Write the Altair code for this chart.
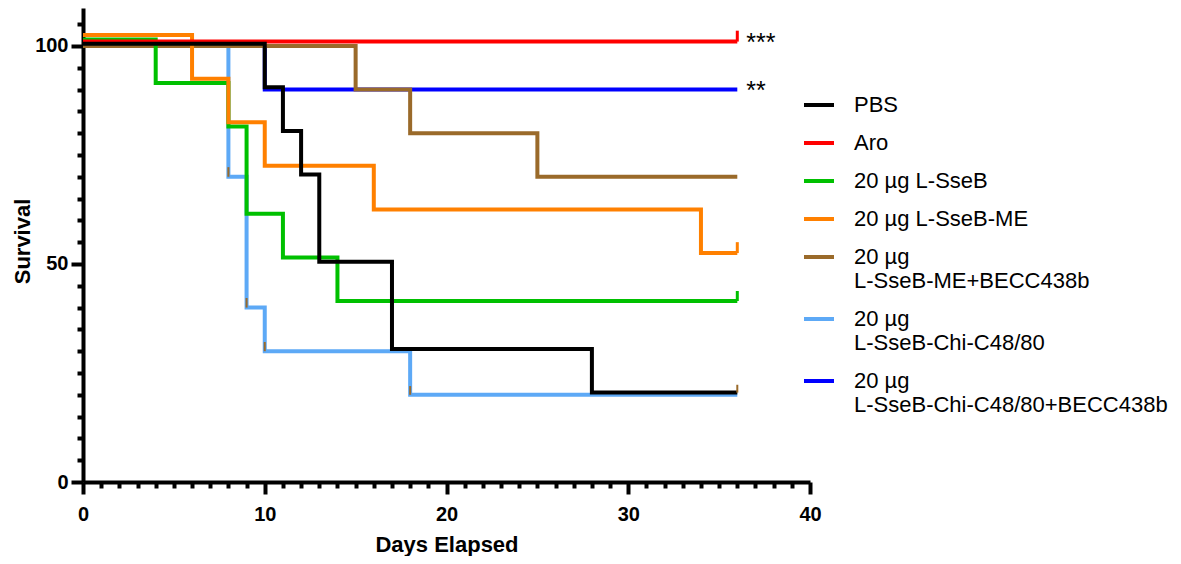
import altair as alt
import pandas as pd

groups = ["PBS", "Aro", "20 µg L-SseB", "20 µg L-SseB-ME",
          "20 µg L-SseB-ME+BECC438b", "20 µg L-SseB-Chi-C48/80",
          "20 µg L-SseB-Chi-C48/80+BECC438b"]
colors = ["#000000", "#FF0000", "#00C000", "#FF8000", "#9A6A2A", "#5DA9F6", "#0000FF"]

pbs_days = [0, 10, 11, 12, 13, 17, 28, 36]
pbs_surv = [100.5, 90.5, 80.5, 70.5, 50.5, 30.5, 20.5, 20.5]
aro_days = [0, 36]
aro_surv = [101, 101]
sseb_days = [0, 4, 8, 9, 11, 14, 36]
sseb_surv = [101.5, 91.5, 81.5, 61.5, 51.5, 41.5, 41.5]
me_days = [0, 6, 8, 10, 16, 34, 36]
me_surv = [102.5, 92.5, 82.5, 72.5, 62.5, 52.5, 52.5]
mebecc_days = [0, 15, 18, 25, 36]
mebecc_surv = [100, 90, 80, 70, 70]
chi_days = [0, 8, 9, 10, 18, 36]
chi_surv = [100, 70, 40, 30, 20, 20]
chibecc_days = [0, 10, 36]
chibecc_surv = [100, 90, 90]

# censored-subject ticks at the end of the curves
cens_group = ["Aro", "20 µg L-SseB-ME", "20 µg L-SseB"]
cens_day = [36, 36, 36]
cens_low = [101, 52.5, 41.5]
cens_high = [103.5, 55, 43.8]

# small brown marks visible on the light-blue steps
brown_day = [8, 9, 10, 18, 36]
brown_low = [70, 40, 30, 20, 20.5]
brown_high = [72.2, 42.2, 32.1, 22, 22.3]

# significance marks
star_text = ["***", "**"]
star_day = [36, 36]
star_surv = [101, 90]

x_ticks_major = [0, 10, 20, 30, 40]
x_ticks_minor = [d for d in range(0, 41) if d % 10 != 0]
y_ticks_major = [0, 50, 100]
y_ticks_minor = [v for v in range(5, 110, 5) if v % 50 != 0]

series = [
    (groups[5], chi_days, chi_surv),
    (groups[6], chibecc_days, chibecc_surv),
    (groups[4], mebecc_days, mebecc_surv),
    (groups[2], sseb_days, sseb_surv),
    (groups[3], me_days, me_surv),
    (groups[1], aro_days, aro_surv),
    (groups[0], pbs_days, pbs_surv),
]
rows = []
order = 0
for g, ds, ss in series:
    for d, s in zip(ds, ss):
        rows.append({"group": g, "day": d, "surv": s, "o": order})
        order += 1
df = pd.DataFrame(rows)

cens_df = pd.DataFrame({"group": cens_group, "day": cens_day, "surv": cens_low, "surv2": cens_high})
brown_df = pd.DataFrame({"day": brown_day, "surv": brown_low, "surv2": brown_high})
star_df = pd.DataFrame({"label": star_text, "day": star_day, "surv": star_surv})

FONT = "Liberation Sans"
XDOM = [0, 40]
YDOM = [0, 108.7]

x_axis = alt.Axis(values=x_ticks_major, title="Days Elapsed", tickSize=12, tickWidth=4,
                  domainWidth=4, labelPadding=10, grid=False, titleY=69, labelFlush=False,
                  titleBaseline="alphabetic", titleFontSize=22, labelFontSize=20)
y_axis = alt.Axis(values=y_ticks_major, title="Survival", tickSize=12, tickWidth=4,
                  domainWidth=4, labelPadding=3, grid=False, titleX=-54, titleY=233,
                  labelFlush=False,
                  titleBaseline="alphabetic", titleAngle=270, titleAlign="center",
                  titleFontSize=22, labelFontSize=20)

x_enc = alt.X("day:Q", scale=alt.Scale(domain=XDOM, nice=False, zero=False), axis=x_axis)
y_enc = alt.Y("surv:Q", scale=alt.Scale(domain=YDOM, nice=False), axis=y_axis)

color_enc = alt.Color("group:N", scale=alt.Scale(domain=groups, range=colors),
                      legend=alt.Legend(
                          title=None, orient="none", legendX=719, legendY=80,
                          symbolType="stroke", symbolSize=900, symbolStrokeWidth=4,
                          labelFont=FONT, labelFontSize=22, labelColor="black",
                          labelOffset=18, labelLimit=500, rowPadding=10, padding=0,
                          labelExpr="length(datum.label) > 16 ? [slice(datum.label, 0, 5), slice(datum.label, 6)] : datum.label"))

lines = alt.Chart(df).mark_line(interpolate="step-after", strokeWidth=4).encode(
    x=x_enc, y=y_enc, color=color_enc, order="o:Q")

cens = alt.Chart(cens_df).mark_rule(strokeWidth=3).encode(
    x=x_enc, y=y_enc, y2="surv2:Q",
    color=alt.Color("group:N", scale=alt.Scale(domain=groups, range=colors), legend=None))

brown = alt.Chart(brown_df).mark_rule(strokeWidth=2, color="#9A6A2A").encode(
    x=x_enc, y=y_enc, y2="surv2:Q")

stars = alt.Chart(star_df).mark_text(align="left", baseline="alphabetic", dx=9, dy=9,
                                     font=FONT, fontSize=25, color="black").encode(
    x=x_enc, y=y_enc, text="label:N")

inner = alt.layer(lines, cens, brown, stars)

minor = alt.Chart(df).mark_point(opacity=0, size=1).encode(
    x=alt.X("day:Q", scale=alt.Scale(domain=XDOM, nice=False, zero=False),
            axis=alt.Axis(values=x_ticks_minor, orient="bottom", labels=False, domain=False,
                          tickSize=6, tickWidth=4, grid=False, title=None)),
    y=alt.Y("surv:Q", scale=alt.Scale(domain=YDOM, nice=False),
            axis=alt.Axis(values=y_ticks_minor, orient="left", labels=False, domain=False,
                          tickSize=6, tickWidth=4, grid=False, title=None)),
)

chart = alt.layer(inner, minor).resolve_scale(x="independent", y="independent").properties(
    width=727, height=474,
    autosize=alt.AutoSizeParams(type="none"),
    padding={"left": 75, "top": 0, "right": 363, "bottom": 74},
).configure_view(strokeWidth=0).configure_axis(
    labelFont=FONT, labelFontWeight="bold", labelColor="black",
    titleFont=FONT, titleFontWeight="bold", titleColor="black",
    domainColor="black", tickColor="black",
)

chart.save("out.html", embed_options={"renderer": "svg", "actions": False})
